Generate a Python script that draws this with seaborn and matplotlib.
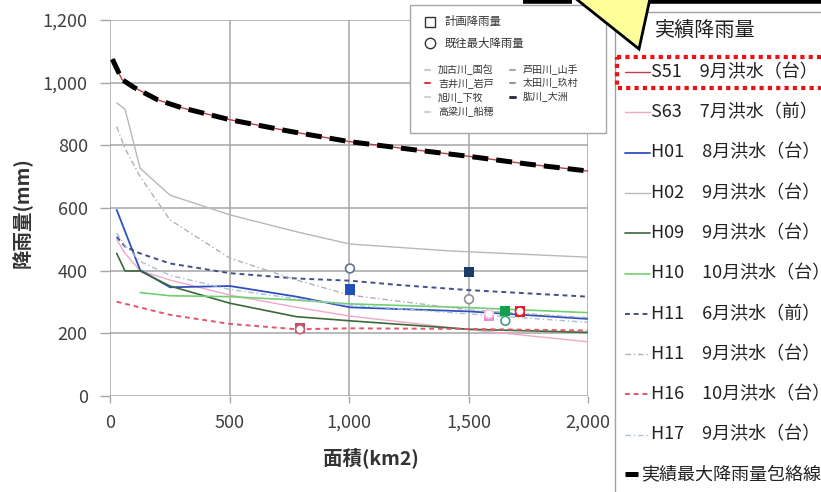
import matplotlib
matplotlib.use("Agg")
import matplotlib.pyplot as plt
import seaborn as sns
from matplotlib.ticker import FuncFormatter
from matplotlib.patches import Rectangle, Polygon

W, H = 821, 492

# 実績最大降雨量包絡線
env_area = [10, 50, 100, 200, 300, 500, 750, 1000, 1250, 1500, 1750, 2000]
env_rain = [1075, 1010, 985, 945, 920, 882, 845, 812, 788, 765, 740, 718]

# observed events (面積 km2, 降雨量 mm)
s51_area = [10, 50, 100, 200, 300, 500, 750, 1000, 1250, 1500, 1750, 2000]
s51_rain = [1075, 1010, 985, 945, 920, 882, 845, 812, 788, 765, 740, 718]
s63_area = [28, 63, 126, 251, 502, 781, 1004, 1500, 2000]
s63_rain = [500, 455, 400, 370, 322, 283, 255, 212, 173]
h01_area = [28, 126, 251, 502, 781, 1004, 1500, 2000]
h01_rain = [594, 402, 347, 351, 317, 283, 270, 246]
h02_area = [28, 63, 126, 251, 502, 781, 1004, 1423, 2000]
h02_rain = [936, 915, 727, 641, 578, 524, 485, 463, 443]
h09_area = [28, 63, 126, 251, 502, 781, 1004, 1500, 2000]
h09_rain = [455, 399, 399, 351, 296, 253, 240, 213, 203]
h10_area = [126, 251, 502, 781, 1004, 1500, 2000]
h10_rain = [330, 320, 317, 306, 294, 282, 266]
h11a_area = [28, 63, 126, 251, 502, 781, 1004, 1213, 1500, 2000]
h11a_rain = [508, 477, 455, 423, 392, 375, 368, 354, 338, 317]
h11b_area = [28, 63, 126, 251, 502, 781, 1004, 1500, 2000]
h11b_rain = [860, 790, 700, 562, 440, 370, 322, 275, 250]
h16_area = [28, 251, 502, 781, 1004, 1500, 2000]
h16_rain = [301, 259, 230, 213, 216, 214, 209]
h17_area = [28, 63, 126, 251, 502, 781, 1004, 1500, 2000]
h17_rain = [520, 480, 430, 385, 340, 310, 290, 262, 235]

event_labels = ["S51\u30009月洪水（台）", "S63\u30007月洪水（前）", "H01\u30008月洪水（台）",
                "H02\u30009月洪水（台）", "H09\u30009月洪水（台）", "H10\u300010月洪水（台）",
                "H11\u30006月洪水（前）", "H11\u30009月洪水（台）", "H16\u300010月洪水（台）",
                "H17\u30009月洪水（台）"]

# rivers: 計画降雨量 (square) and 既往最大降雨量 (circle)
rivers = ["加古川_国包", "吉井川_岩戸", "旭川_下牧", "高梁川_船穂", "芦田川_山手", "太田川_玖村", "肱川_大洲"]
pt_rivers = ["肱川_大洲", "太田川_玖村", "芦田川_山手", "旭川_下牧", "加古川_国包", "吉井川_岩戸"]
plan_area = [1004, 1502, 795, 1586, 1654, 1715]
plan_rain = [340, 395, 218, 255, 272, 270]
max_area = [1004, 1502, 795, 1586, 1654, 1715]
max_rain = [407, 309, 213, 262, 240, 270]

sns.set_theme(style="whitegrid")
plt.rcParams['font.family'] = ['Noto Sans CJK JP', 'DejaVu Sans']

fig = plt.figure(figsize=(W / 100, H / 100), dpi=100)
ax = fig.add_axes([110 / W, 1 - 396 / H, (588 - 110) / W, (396 - 20) / H])

series = [
    (s51_area, s51_rain, "#c0404a", "-", 1.0),
    (s63_area, s63_rain, "#f0a8c8", "-", 1.0),
    (h01_area, h01_rain, "#3050c0", "-", 1.3),
    (h02_area, h02_rain, "#b8b8b8", "-", 1.0),
    (h09_area, h09_rain, "#3a6a3a", "-", 1.2),
    (h10_area, h10_rain, "#70d070", "-", 1.2),
    (h11a_area, h11a_rain, "#44508a", (0, (2.5, 2)), 1.4),
    (h11b_area, h11b_rain, "#b0b0b8", (0, (4, 2, 1, 2)), 1.0),
    (h16_area, h16_rain, "#e05868", (0, (2.5, 2)), 1.4),
    (h17_area, h17_rain, "#a8c0d8", (0, (4, 2, 1, 2)), 1.0),
]

for xs, ys, col, ls, lw in series:
    sns.lineplot(x=xs, y=ys, ax=ax, color=col, linestyle=ls, lw=lw,
                 sort=False, estimator=None)

sns.lineplot(x=env_area, y=env_rain, ax=ax, color="black", lw=3.6,
             linestyle=(0, (3.2, 1.6)), sort=False, estimator=None)

plan_colors = {"肱川_大洲": "#2050b8", "太田川_玖村": "#1f3a6a", "芦田川_山手": "#c04a60",
               "旭川_下牧": "#e090d0", "加古川_国包": "#10a050", "吉井川_岩戸": "#e02030"}
max_edges = {"肱川_大洲": "#607090", "太田川_玖村": "#909090", "芦田川_山手": "#c06070",
             "旭川_下牧": "#f0c0e0", "加古川_国包": "#40a080", "吉井川_岩戸": "#e02030"}

sns.scatterplot(x=plan_area, y=plan_rain, hue=pt_rivers, palette=plan_colors, marker="s",
                s=55, edgecolor="none", legend=False, ax=ax, zorder=5)
ax.scatter(max_area, max_rain, s=40, facecolor="white",
           edgecolor=[max_edges[r] for r in pt_rivers], lw=1.2, zorder=6)

ax.set_xlim(0, 2000)
ax.set_ylim(0, 1200)
ax.set_xticks(range(0, 2001, 500))
ax.set_yticks(range(0, 1201, 200))
fmt = FuncFormatter(lambda v, p: f"{int(v):,}")
ax.xaxis.set_major_formatter(fmt)
ax.yaxis.set_major_formatter(fmt)
ax.grid(color="#a6a6a6", lw=1.1)
ax.set_facecolor("white")
for s in ax.spines.values():
    s.set_visible(False)
ax.tick_params(axis="y", left=True, length=7, width=1, color="#a6a6a6", pad=9,
               labelsize=13, labelcolor="#404040")
ax.tick_params(axis="x", bottom=True, length=5, width=1, color="#a6a6a6", pad=8,
               labelsize=13, labelcolor="#404040")
ax.set_xlabel("")
ax.set_ylabel("")

# overlay in pixel coordinates
ov = fig.add_axes([0, 0, 1, 1])
ov.set_xlim(0, W)
ov.set_ylim(H, 0)
ov.axis("off")

fig.text(371 / W, 1 - 458 / H, "面積(km2)", ha="center", va="center",
         fontsize=14, fontweight="bold", color="#333333")
fig.text(22 / W, 1 - 213 / H, "降雨量(mm)", ha="center", va="center", rotation=90,
         fontsize=14, fontweight="bold", color="#333333")

# inner legend
ov.add_patch(Rectangle((410, 5), 196, 128, facecolor="white", edgecolor="#a6a6a6", lw=1))
ov.plot([430], [22], marker="s", ms=7, mfc="white", mec="#333333", mew=1)
ov.plot([430], [43], marker="o", ms=7.5, mfc="white", mec="#333333", mew=1)
ov.text(445, 22, "計画降雨量", fontsize=8.2, va="center", color="#333333")
ov.text(445, 43, "既往最大降雨量", fontsize=8.2, va="center", color="#333333")
river_cols = ["#c8ccd8", "#e03848", "#d0d0d0", "#d0d0d0", "#a8a8a8", "#989898", "#303848"]
row_y = [70, 83, 97, 112]
for i, (name, col) in enumerate(zip(rivers, river_cols)):
    cx = 425 if i < 4 else 510
    cy = row_y[i % 4]
    ov.plot([cx, cx + 5], [cy, cy], color=col, lw=1.5 if i < 6 else 2.2)
    ov.text(cx + 13, cy, name, fontsize=7.2, va="center", color="#333333")

# right legend
ov.add_patch(Rectangle((615, 12), 300, 520, facecolor="white", edgecolor="#a0a0a0", lw=1))
ov.text(655, 30, "実績降雨量", fontsize=14.5, va="center", color="#222222")
for i, ((xs, ys, col, ls, lw), lab) in enumerate(zip(series, event_labels)):
    yy = 72 + 40.3 * i
    ov.plot([625, 650], [yy, yy], color=col, linestyle=ls, lw=max(lw, 1.0))
    ov.text(651, yy, lab, fontsize=13, va="center", color="#222222")
ov.plot([625, 638], [474, 474], color="black", lw=3.6, solid_capstyle="butt")
ov.text(641, 474, "実績最大降雨量包絡線", fontsize=13, va="center", color="#222222")
ov.add_patch(Rectangle((617, 57), 240, 31, facecolor="none", edgecolor="#ee1111",
                       lw=3, linestyle=(0, (1, 1))))

# callout pointer
ov.add_patch(Polygon([(570, -6), (651, -6), (639, 49)], closed=True,
                     facecolor="#ffff99", edgecolor="black", lw=2, zorder=10))
ov.plot([523, 572], [1, 1], color="black", lw=4, zorder=11, solid_capstyle="butt")
ov.plot([649, 821], [1, 1], color="black", lw=4, zorder=11, solid_capstyle="butt")

fig.savefig("out.png", dpi=100, facecolor="white")
